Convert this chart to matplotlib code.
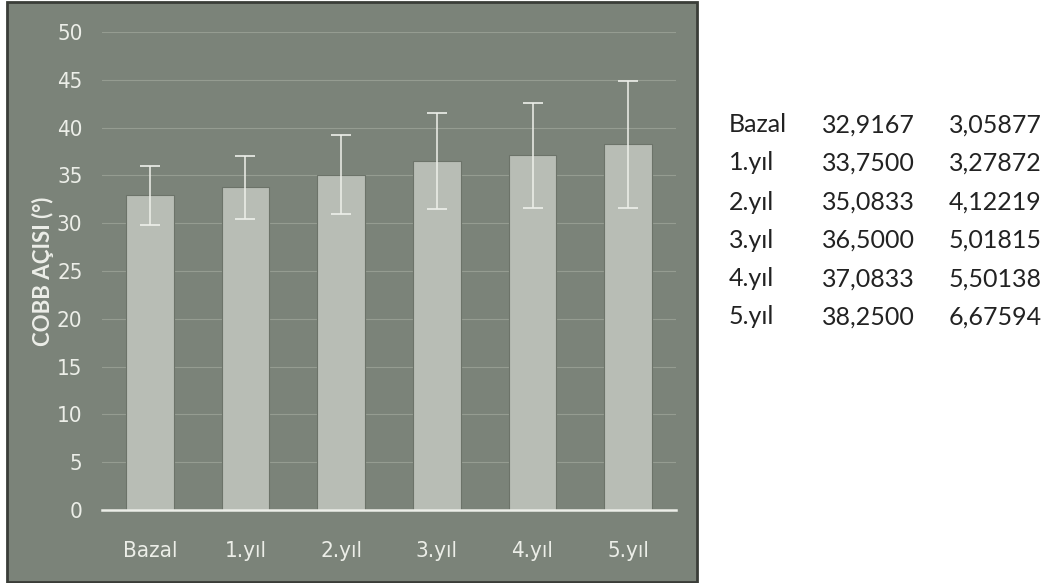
import matplotlib.pyplot as plt
import matplotlib.font_manager as fm
from matplotlib.patches import Rectangle

labels = ['Bazal', '1.yıl', '2.yıl', '3.yıl', '4.yıl', '5.yıl']
means = [32.9167, 33.7500, 35.0833, 36.5000, 37.0833, 38.2500]
sds = [3.05877, 3.27872, 4.12219, 5.01815, 5.50138, 6.67594]

# narrow font for the axis labels if there is one
have = {(f.name, f.stretch) for f in fm.fontManager.ttflist}
if any(n == 'Liberation Sans Narrow' for n, s in have):
    tick_font = dict(family='Liberation Sans Narrow')
elif ('DejaVu Sans', 'condensed') in have:
    tick_font = dict(family='DejaVu Sans', stretch='condensed')
else:
    tick_font = dict(family='Lato')

W, H = 1053, 583
fig = plt.figure(figsize=(W / 100, H / 100), dpi=100)
fig.patch.set_facecolor('white')

# gray panel behind the chart
panel = Rectangle((7 / W, 1 / H), 690 / W, 580 / H, transform=fig.transFigure,
                  facecolor='#7b8379', edgecolor='#3a3d38', linewidth=2, zorder=-1)
fig.patches.append(panel)

ax = fig.add_axes([102 / W, 73 / H, 574 / W, 478 / H])
ax.set_facecolor('none')
txt = '#eceee8'

ax.bar(range(len(labels)), means, width=0.5, color='#b8bdb5',
       edgecolor='#6c7369', linewidth=0.8, zorder=2)
ax.errorbar(range(len(labels)), means, yerr=sds, fmt='none', ecolor='#eef0ea',
            elinewidth=1.1, capsize=7, capthick=1.2, zorder=3)

ax.set_xlim(-0.5, 5.5)
ax.set_ylim(0, 50)
ax.set_yticks(range(0, 51, 5))
ax.set_xticks(range(len(labels)))
ax.set_xticklabels(labels)
ax.yaxis.grid(True, color='#959c91', linewidth=0.8, zorder=1)
ax.set_axisbelow(True)
for s in ['top', 'right', 'left']:
    ax.spines[s].set_visible(False)
ax.spines['bottom'].set_color(txt)
ax.spines['bottom'].set_linewidth(1.8)
ax.tick_params(length=0, colors=txt, labelsize=16)
ax.tick_params(axis='y', pad=14)
ax.tick_params(axis='x', pad=22)
for t in ax.get_xticklabels() + ax.get_yticklabels():
    t.set(**tick_font)
ax.set_ylabel('COBB AÇISI (°)', color=txt, fontsize=16, fontweight='bold',
              family='Lato', labelpad=2)

# value table to the right
row_y = [125, 163, 202, 240, 279, 317]
for lab, m, s, y in zip(labels, means, sds, row_y):
    fy = 1 - y / H
    fig.text(729 / W, fy, lab, fontsize=18, family='Lato', va='center',
             color='#222222')
    fig.text(822 / W, fy, f'{m:.4f}'.replace('.', ','), fontsize=18,
             family='Lato', va='center', color='#222222')
    fig.text(949 / W, fy, f'{s:.5f}'.replace('.', ','), fontsize=18,
             family='Lato', va='center', color='#222222')

fig.savefig('out.png', dpi=100)
